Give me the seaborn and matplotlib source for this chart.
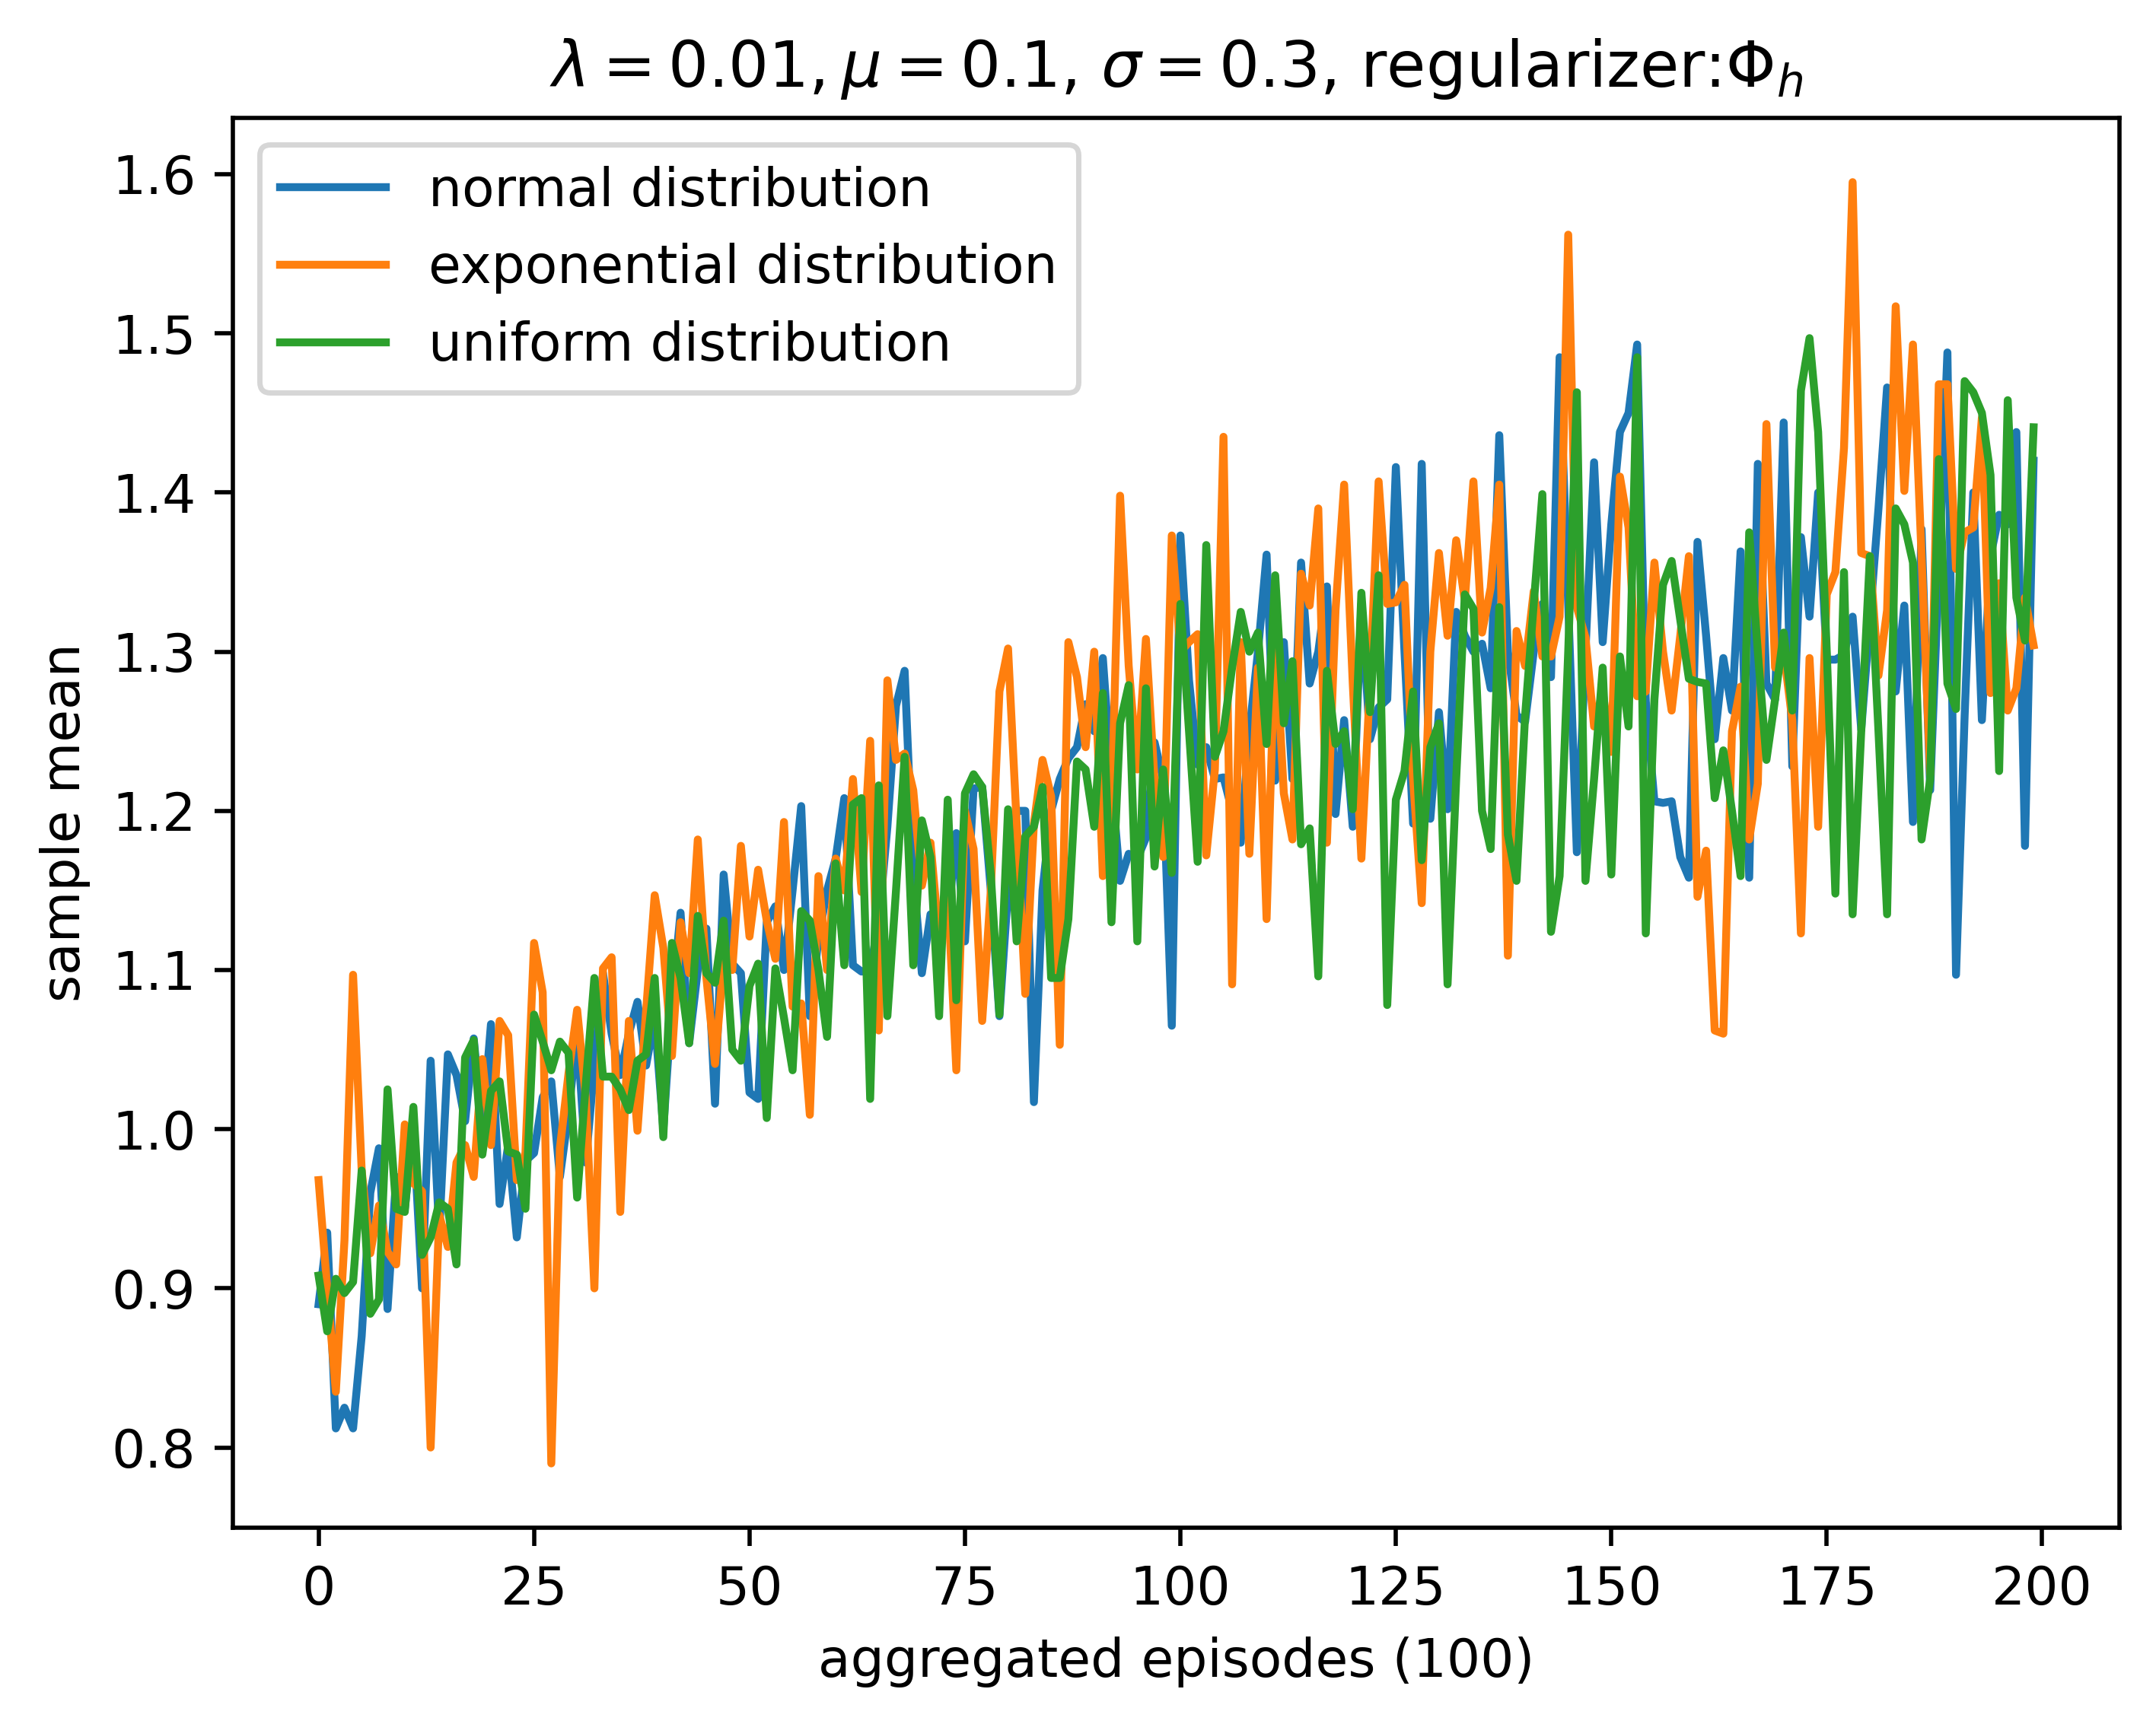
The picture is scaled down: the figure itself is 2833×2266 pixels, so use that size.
import numpy as np
import pandas as pd
import matplotlib
matplotlib.use("Agg")
import matplotlib.pyplot as plt
import seaborn as sns

episodes = list(range(200))

normal_vals = [
    0.89, 0.935, 0.812, 0.825, 0.812, 0.87, 0.96, 0.988, 0.887, 0.97,
    0.95, 1.00, 0.90, 1.043, 0.935, 1.047, 1.034, 1.005, 1.057, 1.00,
    1.066, 0.953, 0.99, 0.932, 0.98, 0.985, 1.02, 1.03, 0.97, 1.01,
    1.061, 0.979, 1.04, 1.098, 1.06, 1.034, 1.06, 1.08, 1.04, 1.07,
    1.0, 1.08, 1.136, 1.054, 1.10, 1.126, 1.016, 1.16, 1.104, 1.098,
    1.023, 1.019, 1.13, 1.14, 1.10, 1.15, 1.203, 1.071, 1.12, 1.15,
    1.17, 1.208, 1.103, 1.099, 1.10, 1.13, 1.19, 1.266, 1.288, 1.16,
    1.098, 1.135, 1.12, 1.13, 1.186, 1.118, 1.214, 1.215, 1.15, 1.071,
    1.15, 1.20, 1.20, 1.017, 1.15, 1.20, 1.22, 1.233, 1.24, 1.267,
    1.25, 1.296, 1.22, 1.156, 1.173, 1.17, 1.183, 1.243, 1.22, 1.065,
    1.373, 1.282, 1.229, 1.24, 1.22, 1.221, 1.20, 1.18, 1.25, 1.30,
    1.361, 1.219, 1.306, 1.22, 1.356, 1.28, 1.30, 1.341, 1.198, 1.257,
    1.19, 1.33, 1.245, 1.265, 1.27, 1.416, 1.30, 1.192, 1.418, 1.195,
    1.262, 1.201, 1.325, 1.31, 1.30, 1.305, 1.277, 1.436, 1.30, 1.26,
    1.256, 1.30, 1.33, 1.284, 1.485, 1.33, 1.174, 1.30, 1.419, 1.306,
    1.38, 1.438, 1.45, 1.493, 1.269, 1.206, 1.205, 1.206, 1.171, 1.158,
    1.369, 1.31, 1.245, 1.296, 1.263, 1.363, 1.158, 1.418, 1.28, 1.27,
    1.444, 1.228, 1.372, 1.322, 1.40, 1.295, 1.295, 1.298, 1.322, 1.251,
    1.32, 1.39, 1.466, 1.275, 1.329, 1.193, 1.377, 1.213, 1.35, 1.488,
    1.097, 1.26, 1.40, 1.257, 1.36, 1.386, 1.38, 1.438, 1.178, 1.42,
]

exponential_vals = [
    0.968, 0.90, 0.835, 0.93, 1.097, 0.974, 0.922, 0.952, 0.923, 0.915,
    1.003, 0.966, 0.961, 0.80, 0.946, 0.926, 0.979, 0.99, 0.97, 1.044,
    0.99, 1.068, 1.059, 0.968, 0.985, 1.117, 1.086, 0.79, 0.988, 1.035,
    1.075, 1.02, 0.90, 1.101, 1.108, 0.948, 1.068, 0.999, 1.074, 1.147,
    1.114, 1.046, 1.13, 1.098, 1.182, 1.095, 1.041, 1.106, 1.10, 1.178,
    1.121, 1.163, 1.131, 1.107, 1.193, 1.077, 1.079, 1.009, 1.159, 1.10,
    1.17, 1.15, 1.22, 1.149, 1.244, 1.062, 1.282, 1.232, 1.236, 1.213,
    1.153, 1.18, 1.12, 1.15, 1.037, 1.20, 1.176, 1.068, 1.15, 1.275,
    1.302, 1.192, 1.085, 1.192, 1.232, 1.209, 1.053, 1.306, 1.284, 1.24,
    1.30, 1.159, 1.20, 1.398, 1.291, 1.226, 1.308, 1.219, 1.171, 1.373,
    1.30, 1.306, 1.311, 1.172, 1.226, 1.435, 1.091, 1.306, 1.173, 1.29,
    1.132, 1.311, 1.211, 1.182, 1.349, 1.329, 1.39, 1.18, 1.326, 1.405,
    1.28, 1.17, 1.28, 1.407, 1.33, 1.331, 1.342, 1.22, 1.142, 1.30,
    1.362, 1.31, 1.37, 1.332, 1.407, 1.312, 1.34, 1.405, 1.109, 1.313,
    1.291, 1.338, 1.297, 1.297, 1.322, 1.562, 1.328, 1.309, 1.253, 1.275,
    1.237, 1.41, 1.378, 1.272, 1.275, 1.356, 1.30, 1.263, 1.31, 1.36,
    1.146, 1.175, 1.062, 1.06, 1.25, 1.278, 1.182, 1.217, 1.443, 1.29,
    1.30, 1.257, 1.123, 1.296, 1.19, 1.336, 1.35, 1.428, 1.595, 1.362,
    1.36, 1.285, 1.326, 1.517, 1.401, 1.493, 1.36, 1.223, 1.468, 1.468,
    1.352, 1.375, 1.378, 1.447, 1.274, 1.343, 1.263, 1.277, 1.334, 1.304,
]

uniform_vals = [
    0.908, 0.873, 0.906, 0.897, 0.904, 0.974, 0.884, 0.893, 1.025, 0.950,
    0.948, 1.014, 0.921, 0.932, 0.954, 0.95, 0.915, 1.045, 1.056, 0.984,
    1.024, 1.030, 0.986, 0.984, 0.950, 1.072, 1.055, 1.037, 1.055, 1.048,
    0.957, 1.028, 1.095, 1.033, 1.033, 1.025, 1.012, 1.043, 1.047, 1.095,
    0.995, 1.117, 1.095, 1.054, 1.134, 1.098, 1.092, 1.131, 1.050, 1.043,
    1.09, 1.104, 1.007, 1.101, 1.07, 1.037, 1.137, 1.131, 1.10, 1.058,
    1.167, 1.103, 1.204, 1.208, 1.019, 1.216, 1.071, 1.15, 1.234, 1.103,
    1.194, 1.171, 1.071, 1.207, 1.081, 1.211, 1.223, 1.215, 1.16, 1.072,
    1.201, 1.118, 1.184, 1.19, 1.215, 1.095, 1.095, 1.132, 1.231, 1.226,
    1.19, 1.274, 1.13, 1.255, 1.279, 1.118, 1.277, 1.165, 1.226, 1.161,
    1.33, 1.25, 1.168, 1.367, 1.234, 1.25, 1.29, 1.325, 1.30, 1.312,
    1.242, 1.348, 1.255, 1.294, 1.179, 1.189, 1.096, 1.288, 1.242, 1.25,
    1.201, 1.337, 1.262, 1.348, 1.078, 1.207, 1.225, 1.275, 1.169, 1.24,
    1.255, 1.091, 1.22, 1.336, 1.327, 1.20, 1.176, 1.328, 1.185, 1.156,
    1.26, 1.33, 1.399, 1.124, 1.159, 1.30, 1.463, 1.156, 1.22, 1.290,
    1.16, 1.297, 1.253, 1.485, 1.123, 1.27, 1.342, 1.357, 1.32, 1.283,
    1.281, 1.28, 1.208, 1.238, 1.20, 1.159, 1.375, 1.30, 1.232, 1.27,
    1.312, 1.263, 1.464, 1.497, 1.438, 1.30, 1.148, 1.35, 1.135, 1.25,
    1.36, 1.25, 1.135, 1.39, 1.38, 1.356, 1.182, 1.22, 1.421, 1.28,
    1.264, 1.47, 1.463, 1.45, 1.411, 1.225, 1.458, 1.334, 1.307, 1.441,
]

series_names = ["normal distribution", "exponential distribution", "uniform distribution"]
series_vals = [normal_vals, exponential_vals, uniform_vals]
colors = ["#1f77b4", "#ff7f0e", "#2ca02c"]

df = pd.concat(
    [pd.DataFrame({"episode": episodes, "value": v, "series": n})
     for n, v in zip(series_names, series_vals)],
    ignore_index=True,
)

plt.rcParams["font.family"] = ["DejaVu Sans"]
plt.rcParams["font.size"] = 10

fig = plt.figure(figsize=(2833 / 500, 2266 / 500), dpi=500)
ax = fig.add_axes([0.108, 0.114, 0.875, 0.8175])

for name, col in zip(series_names, colors):
    sns.lineplot(data=df[df["series"] == name], x="episode", y="value",
                 ax=ax, color=col, linewidth=1.5, label=name)

ax.set_xlabel("aggregated episodes (100)")
ax.set_ylabel("sample mean")
ax.set_title(r"$\lambda=0.01, \mu=0.1$, $\sigma=0.3$, regularizer:$\Phi_h$", fontsize=12)
ax.set_xticks([0, 25, 50, 75, 100, 125, 150, 175, 200])
ax.set_yticks([0.8, 0.9, 1.0, 1.1, 1.2, 1.3, 1.4, 1.5, 1.6])
ax.legend(loc="upper left", fontsize=10)

fig.savefig("out.png", dpi=500)
